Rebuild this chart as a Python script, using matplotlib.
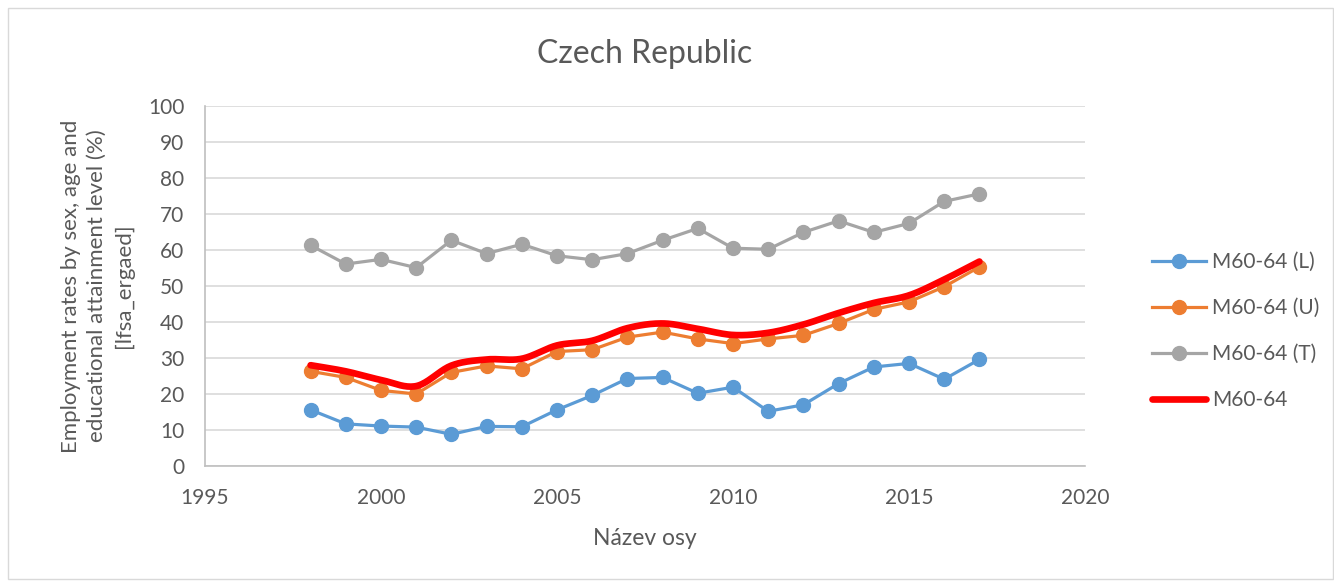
import numpy as np
import matplotlib
matplotlib.use("Agg")
import matplotlib.pyplot as plt
from matplotlib.patches import Rectangle

plt.rcParams['font.family'] = ['Lato', 'DejaVu Sans']

years = list(range(1998, 2018))
m_low = [15.6, 11.7, 11.1, 10.8, 8.8, 11.0, 10.9, 15.6, 19.6, 24.3,
         24.6, 20.2, 21.9, 15.2, 17.0, 22.9, 27.5, 28.5, 24.1, 29.6]
m_upper = [26.3, 24.6, 21.0, 20.0, 26.0, 27.8, 27.0, 31.8, 32.3, 35.8,
           37.2, 35.3, 34.0, 35.3, 36.3, 39.6, 43.5, 45.6, 49.8, 55.3]
m_tert = [61.3, 56.1, 57.4, 55.1, 62.7, 59.0, 61.6, 58.4, 57.3, 59.0,
          62.7, 66.0, 60.5, 60.2, 64.9, 68.1, 64.9, 67.4, 73.5, 75.6]
m_total = [28.0, 26.3, 23.9, 22.2, 27.9, 29.6, 29.8, 33.5, 34.8, 38.3,
           39.6, 38.1, 36.4, 37.0, 39.3, 42.5, 45.3, 47.4, 51.8, 56.8]
labels = ["M60-64 (L)", "M60-64 (U)", "M60-64 (T)", "M60-64"]


def smooth(x, y, n=20):
    # Catmull-Rom spline through the data points (Excel-like smoothing)
    x = np.asarray(x, float); y = np.asarray(y, float)
    px = np.concatenate([[2 * x[0] - x[1]], x, [2 * x[-1] - x[-2]]])
    py = np.concatenate([[2 * y[0] - y[1]], y, [2 * y[-1] - y[-2]]])
    xs, ys = [], []
    t = np.linspace(0, 1, n, endpoint=False)
    for i in range(1, len(px) - 2):
        for arr, out in ((px, xs), (py, ys)):
            p0, p1, p2, p3 = arr[i - 1], arr[i], arr[i + 1], arr[i + 2]
            out.extend(0.5 * ((2 * p1) + (-p0 + p2) * t
                              + (2 * p0 - 5 * p1 + 4 * p2 - p3) * t ** 2
                              + (-p0 + 3 * p1 - 3 * p2 + p3) * t ** 3))
    xs.append(x[-1]); ys.append(y[-1])
    return np.array(xs), np.array(ys)


fig = plt.figure(figsize=(13.34, 5.81), dpi=100)
fig.patches.append(Rectangle((8 / 1334, 2 / 581), 1 - 9 / 1334, 1 - 10 / 581,
                             transform=fig.transFigure, fill=False,
                             edgecolor='#d9d9d9', linewidth=1))
ax = fig.add_axes([205 / 1334, 1 - 466 / 581, 880 / 1334, 360 / 581])

ax.plot(years, m_low, color='#5B9BD5', lw=2.3, marker='o', ms=10, label=labels[0], zorder=3)
ax.plot(years, m_upper, color='#ED7D31', lw=2.3, marker='o', ms=10, label=labels[1], zorder=3)
ax.plot(years, m_tert, color='#A5A5A5', lw=2.3, marker='o', ms=10, label=labels[2], zorder=3)
sx, sy = smooth(years, m_total)
ax.plot(sx, sy, color='#FF0000', lw=4.8, label=labels[3], zorder=4, solid_capstyle='round')

ax.set_xlim(1995, 2020)
ax.set_ylim(0, 100)
ax.set_xticks(range(1995, 2021, 5))
ax.set_yticks(range(0, 101, 10))
ax.grid(axis='y', color='#d9d9d9', lw=1.2)
ax.set_axisbelow(True)
for s in ['top', 'right']:
    ax.spines[s].set_visible(False)
for s in ['bottom', 'left']:
    ax.spines[s].set_color('#bfbfbf')
    ax.spines[s].set_linewidth(1.2)
ax.tick_params(length=0, labelsize=15, colors='#595959')
ax.tick_params(axis='x', pad=16)
ax.tick_params(axis='y', pad=15)

ax.set_title("Czech Republic", fontsize=23, color='#595959', pad=31)
ax.set_xlabel("Název osy", fontsize=16.5, color='#595959', labelpad=14)
ax.set_ylabel("Employment rates by sex, age and\neducational attainment level (%)\n[lfsa_ergaed]",
              fontsize=16, color='#595959', labelpad=10, linespacing=1.4)

leg = fig.legend(loc='center left', bbox_to_anchor=(1133 / 1334, 1 - 331 / 581),
                 frameon=False, fontsize=15, labelspacing=1.25, handlelength=2.6,
                 handletextpad=0.3, labelcolor='#595959')

fig.savefig("out.png", dpi=100)
